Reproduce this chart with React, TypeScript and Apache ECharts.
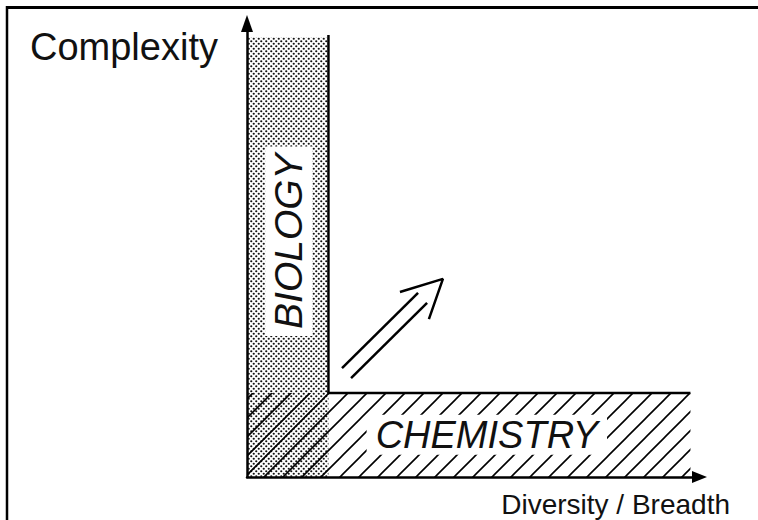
import React, { useEffect, useRef } from 'react';
import * as echarts from 'echarts';

// Region extents in axis units (x from 0, y from 0)
const regionNames = ['BIOLOGY', 'CHEMISTRY'];
const regionXMax = [18, 98];
const regionYMax = [97, 18.5];
const labelX = [9.2, 53];
const labelY = [52, 9.3];

// Double arrow (axis units)
const arrowShaftA = [[21.0, 24.0], [37.8, 40.6]];
const arrowShaftB = [[23.0, 21.8], [39.8, 38.4]];
const arrowHead = [[33.8, 40.8], [43.3, 43.7], [40.2, 34.8]];

const yAxisName = 'Complexity';
const xAxisName = 'Diversity / Breadth';

const svgUrl = (s: string) => 'data:image/svg+xml;charset=utf-8,' + encodeURIComponent(s);
const dotTile = svgUrl(
  '<svg xmlns="http://www.w3.org/2000/svg" width="5" height="5"><circle cx="1.25" cy="1.25" r="1.1" fill="#111"/><circle cx="3.75" cy="3.75" r="1.1" fill="#111"/></svg>'
);
const hatchTile = svgUrl(
  '<svg xmlns="http://www.w3.org/2000/svg" width="19" height="19"><path d="M-2,21 L21,-2 M-4,4 L4,-4 M15,23 L23,15" stroke="#000" stroke-width="1.6" fill="none"/></svg>'
);

const FONT = '"Liberation Sans", Arial, Helvetica, sans-serif';

export default function App() {
  const ref = useRef<HTMLDivElement>(null);
  useEffect(() => {
    document.body.style.margin = '0';
    const chart = echarts.init(ref.current!, null, { renderer: 'svg' });
    const data = regionNames.map((n, i) => [regionXMax[i], regionYMax[i], labelX[i], labelY[i]]);
    const option: any = {
      animation: false,
      backgroundColor: '#fff',
      grid: { left: 247, top: 23.5, right: 58.5, bottom: 43 },
      xAxis: {
        type: 'value', min: 0, max: 100,
        axisLine: { show: true, symbol: ['none', 'triangle'], symbolSize: [12, 15], lineStyle: { color: '#000', width: 2.5 } },
        axisTick: { show: false }, axisLabel: { show: false }, splitLine: { show: false },
      },
      yAxis: {
        type: 'value', min: 0, max: 100,
        axisLine: { show: true, symbol: ['none', 'triangle'], symbolSize: [12, 17], lineStyle: { color: '#000', width: 2.5 } },
        axisTick: { show: false }, axisLabel: { show: false }, splitLine: { show: false },
      },
      graphic: [
        { type: 'line', shape: { x1: 7, y1: 6, x2: 7, y2: 520 }, style: { stroke: '#000', lineWidth: 2.5 } },
        { type: 'line', shape: { x1: 6, y1: 7.5, x2: 758, y2: 7.5 }, style: { stroke: '#000', lineWidth: 3 } },
        {
          type: 'text', x: 30, y: 46.8,
          style: { text: yAxisName, font: `38px ${FONT}`, fill: '#111', textAlign: 'left', textVerticalAlign: 'middle' },
        },
        {
          type: 'text', x: 730, y: 504.3,
          style: { text: xAxisName, font: `28px ${FONT}`, fill: '#111', textAlign: 'right', textVerticalAlign: 'middle' },
        },
      ],
      series: [
        {
          type: 'custom',
          clip: false,
          data,
          renderItem: (params: any, api: any) => {
            const i = params.dataIndex;
            const xMax = api.value(0);
            const yMax = api.value(1);
            const tl = api.coord([0, yMax]);
            const br = api.coord([xMax, 0]);
            const lp = api.coord([api.value(2), api.value(3)]);
            const children: any[] = [];
            const isBio = i === 0;
            children.push({
              type: 'rect',
              shape: { x: tl[0], y: tl[1], width: br[0] - tl[0], height: br[1] - tl[1] },
              style: {
                fill: {
                  image: isBio ? dotTile : hatchTile,
                  repeat: 'repeat',
                  imageWidth: isBio ? 5 : 19,
                  imageHeight: isBio ? 5 : 19,
                },
                stroke: null,
              },
            });
            const corner = api.coord([regionXMax[0], regionYMax[1]]);
            if (isBio) {
              children.push({
                type: 'line',
                shape: { x1: br[0], y1: tl[1] - 2, x2: br[0], y2: corner[1] },
                style: { stroke: '#000', lineWidth: 2.5 },
              });
            } else {
              children.push({
                type: 'line',
                shape: { x1: corner[0] - 1, y1: tl[1], x2: br[0], y2: tl[1] },
                style: { stroke: '#000', lineWidth: 2.5 },
              });
            }
            children.push({
              type: 'text',
              x: lp[0], y: lp[1],
              rotation: isBio ? Math.PI / 2 : 0,
              style: {
                text: regionNames[i],
                font: `italic ${isBio ? 39 : 38}px ${FONT}`,
                fill: '#111',
                align: 'center',
                verticalAlign: 'middle',
                backgroundColor: '#fff',
                padding: isBio ? [4, 7] : [1, 9],
              },
            });
            return { type: 'group', children };
          },
          z: 2,
        },
        {
          type: 'line', data: arrowShaftA, showSymbol: false, silent: true, z: 5,
          lineStyle: { color: '#000', width: 2.5 },
        },
        {
          type: 'line', data: arrowShaftB, showSymbol: false, silent: true, z: 5,
          lineStyle: { color: '#000', width: 2.5 },
        },
        {
          type: 'line', data: arrowHead, showSymbol: false, silent: true, z: 5,
          lineStyle: { color: '#000', width: 2.5 },
        },
      ],
    };
    chart.setOption(option);
    return () => chart.dispose();
  }, []);
  return <div ref={ref} style={{ position: 'fixed', left: 0, top: 0, width: 758, height: 520 }} />;
}
